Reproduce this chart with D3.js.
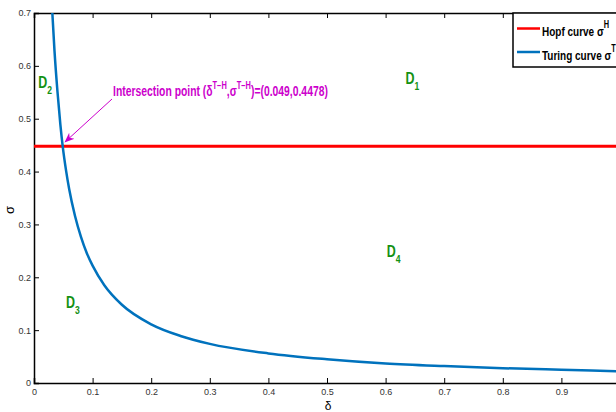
<!DOCTYPE html>
<html>
<head>
<meta charset="utf-8">
<script src="https://cdn.jsdelivr.net/npm/d3@7"></script>
<style>
  body { margin: 0; background: #fff; }
  svg text { font-family: "Liberation Sans", Arial, sans-serif; }
  .tick text { fill: #333; font-size: 9px; }
  .lbl { font-weight: bold; fill: #139113; font-size: 16px; }
</style>
</head>
<body>
<div id="chart"></div>
<script>
// Turing curve points (delta, sigma)
var turingDelta = [0.0313, 0.035, 0.04, 0.045, 0.049, 0.055, 0.06, 0.07, 0.08, 0.09, 0.1, 0.12, 0.15, 0.2, 0.25, 0.3, 0.4, 0.5, 0.6, 0.7, 0.8, 0.9, 1.0];
var turingSigma = [0.70, 0.628, 0.552, 0.489, 0.4478, 0.400, 0.367, 0.316, 0.277, 0.246, 0.222, 0.185, 0.148, 0.111, 0.089, 0.074, 0.056, 0.045, 0.037, 0.032, 0.028, 0.025, 0.022];
// Hopf curve: constant sigma
var hopfDelta = [0, 1];
var hopfSigma = [0.4478, 0.4478];
var xTicks = [0, 0.1, 0.2, 0.3, 0.4, 0.5, 0.6, 0.7, 0.8, 0.9];
var yTicks = [0, 0.1, 0.2, 0.3, 0.4, 0.5, 0.6, 0.7];
var regions = [
    { name: "D", sub: "1", d: 0.634, s: 0.566 },
    { name: "D", sub: "2", d: 0.0073, s: 0.559 },
    { name: "D", sub: "3", d: 0.0546, s: 0.141 },
    { name: "D", sub: "4", d: 0.602, s: 0.239 }
];
var intersect = { d: 0.049, s: 0.4478 };

var width = 616, height = 412;
var marginLeft = 34, marginTop = 13, plotW = 586, plotH = 370;
var condense = 0.78;   // reference text is a narrow face

var svg = d3.select("#chart").append("svg")
    .attr("width", width)
    .attr("height", height);

var x = d3.scaleLinear().domain([0, 1]).range([marginLeft, marginLeft + plotW]);
var y = d3.scaleLinear().domain([0, 0.7]).range([marginTop + plotH, marginTop]);

svg.append("clipPath").attr("id", "plotClip")
    .append("rect")
    .attr("x", marginLeft).attr("y", marginTop)
    .attr("width", plotW).attr("height", plotH);

// axes (box with inward ticks)
var fmt = function (d) { return d === 0 ? "0" : d3.format(".1f")(d); };
var xAxis = d3.axisBottom(x).tickValues(xTicks).tickSize(-5).tickPadding(6).tickFormat(fmt);
var yAxis = d3.axisLeft(y).tickValues(yTicks).tickSize(-5).tickPadding(3).tickFormat(fmt);

var gx = svg.append("g").attr("transform", "translate(0," + (marginTop + plotH) + ")").call(xAxis);
var gy = svg.append("g").attr("transform", "translate(" + marginLeft + ",0)").call(yAxis);
var gt = svg.append("g").attr("transform", "translate(0," + marginTop + ")")
    .call(d3.axisTop(x).tickValues(xTicks).tickSize(-5).tickFormat(""));
[gx, gy, gt].forEach(function (g) {
    g.select(".domain").attr("stroke", "#000").attr("stroke-width", 1.5);
    g.selectAll(".tick line").attr("stroke", "#000");
});

// curves
var line = d3.line()
    .x(function (d) { return x(d[0]); })
    .y(function (d) { return y(d[1]); })
    .curve(d3.curveMonotoneX);

var plot = svg.append("g").attr("clip-path", "url(#plotClip)");
plot.append("path")
    .datum(hopfDelta.map(function (d, i) { return [d, hopfSigma[i]]; }))
    .attr("d", line).attr("fill", "none")
    .attr("stroke", "#ff0000").attr("stroke-width", 3);
plot.append("path")
    .datum(turingDelta.map(function (d, i) { return [d, turingSigma[i]]; }))
    .attr("d", line).attr("fill", "none")
    .attr("stroke", "#0072bd").attr("stroke-width", 2.5);

// region labels
regions.forEach(function (r) {
    var t = svg.append("text").attr("class", "lbl")
        .attr("transform", "translate(" + x(r.d) + "," + y(r.s) + ") scale(" + condense + ",1)");
    t.append("tspan").text(r.name);
    t.append("tspan").attr("dy", 6).attr("font-size", 11).text(r.sub);
});

// annotation
svg.append("defs").append("marker")
    .attr("id", "arr").attr("viewBox", "0 0 10 10")
    .attr("refX", 9).attr("refY", 5)
    .attr("markerWidth", 10).attr("markerHeight", 10)
    .attr("markerUnits", "userSpaceOnUse")
    .attr("orient", "auto")
    .append("path").attr("d", "M0,1 L10,5 L0,9 L3,5 Z").attr("fill", "#cc00cc");

svg.append("line")
    .attr("x1", 112).attr("y1", 99)
    .attr("x2", x(intersect.d) + 2.5).attr("y2", y(intersect.s) - 4.5)
    .attr("stroke", "#cc00cc").attr("stroke-width", 1)
    .attr("marker-end", "url(#arr)");

var ann = svg.append("text")
    .attr("fill", "#cc00cc").attr("font-weight", "bold").attr("font-size", 14);
ann.append("tspan").text("Intersection point (δ");
ann.append("tspan").attr("dy", -7).attr("font-size", 10).text("T−H");
ann.append("tspan").attr("dy", 7).text(",σ");
ann.append("tspan").attr("dy", -7).attr("font-size", 10).text("T−H");
ann.append("tspan").attr("dy", 7).text(")=(" + intersect.d + "," + intersect.s + ")");
var annW = ann.node().getBBox().width;
ann.attr("transform", "translate(113,96) scale(" + (215 / annW) + ",1)");

// axis labels
svg.append("text").attr("x", 328).attr("y", 410).attr("text-anchor", "middle")
    .attr("font-size", 12).text("δ");
svg.append("text").attr("transform", "translate(14,210) rotate(-90)")
    .attr("text-anchor", "middle").attr("font-size", 13).text("σ");

// legend
var legend = svg.append("g").attr("transform", "translate(513,13)");
legend.append("rect").attr("x", 0).attr("y", 0).attr("width", 120).attr("height", 54)
    .attr("fill", "#fff").attr("stroke", "#000").attr("stroke-width", 1.5);
var legItems = [
    { name: "Hopf curve σ", sup: "H", color: "#ff0000" },
    { name: "Turing curve σ", sup: "T", color: "#0072bd" }
];
legItems.forEach(function (it, i) {
    var ly = 15.5 + i * 23.5;
    legend.append("line").attr("x1", 4).attr("x2", 27).attr("y1", ly).attr("y2", ly)
        .attr("stroke", it.color).attr("stroke-width", 2.5);
    var t = legend.append("text")
        .attr("transform", "translate(29," + (ly + 7.5) + ") scale(0.74,1)")
        .attr("font-weight", "bold").attr("font-size", 13.5);
    t.append("tspan").text(it.name);
    t.append("tspan").attr("dy", -8).attr("font-size", 10).text(it.sup);
});
</script>
</body>
</html>
